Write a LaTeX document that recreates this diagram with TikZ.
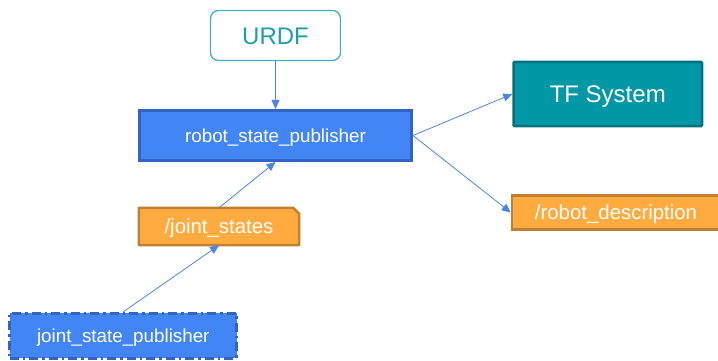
\documentclass[tikz,border=0pt]{standalone}
\usepackage{fontspec}
\setmainfont{Liberation Sans}
\usetikzlibrary{arrows.meta,backgrounds}
\definecolor{gblue}{HTML}{4285F4}
\definecolor{gblueb}{HTML}{3463C2}
\definecolor{arrowc}{HTML}{4A86E8}
\definecolor{tealf}{HTML}{0097A7}
\definecolor{tealb}{HTML}{00737E}
\definecolor{tealt}{HTML}{1E9EA8}
\definecolor{urdfb}{HTML}{45B0B8}
\definecolor{orf}{HTML}{FFAB40}
\definecolor{orb}{HTML}{C07F31}
\begin{document}
\begin{tikzpicture}[x=1pt,y=-1pt,
  box/.style={rectangle,inner sep=0pt,anchor=center,text=white,text depth=0pt},
  conn/.style={draw=arrowc,line width=0.8pt,-{Triangle[length=9pt,width=8pt]}}]
\useasboundingbox (0,0) rectangle (718,361);
\node[box,draw=urdfb,line width=1.3pt,fill=white,rounded corners=8pt,
  minimum width=130pt,minimum height=50pt,text=tealt,font=\fontsize{24}{28}\selectfont,text height=17.2pt]
  (urdf) at (275.5,35.5) {URDF};
\node[box,draw=gblueb,line width=3pt,fill=gblue,minimum width=272pt,minimum height=50pt,
  font=\fontsize{18.8}{22}\selectfont,text height=13.5pt] (rsp) at (275.5,135.5) {robot\_state\_publisher};
\node[box,draw=tealb,line width=2.5pt,fill=tealf,rounded corners=1pt,minimum width=188.5pt,minimum height=64pt,
  font=\fontsize{24}{28}\selectfont,text height=17.2pt] (tf) at (607.75,94) {TF System};
\node[box,draw=orb,line width=2.5pt,fill=orf,minimum width=208pt,minimum height=34pt,
  font=\fontsize{20.4}{24}\selectfont,text height=14.6pt] (rd) at (616,212.5) {/robot\_description};
\node[box,minimum width=160pt,minimum height=37pt,
  font=\fontsize{20.4}{24}\selectfont,text height=14.6pt] (js) at (219,226.5) {/joint\_states};
\begin{scope}[on background layer]
\draw[draw=orb,fill=orf,line width=2.5pt,line join=round]
  (js.south west) -- (js.north west) -- ([xshift=-6pt]js.north east)
  -- ([yshift=-6pt]js.north east) -- (js.south east) -- cycle;
\end{scope}
\node[box,draw=gblueb,line width=3pt,fill=gblue,dash pattern=on 9pt off 4pt on 2.5pt off 4pt,
  minimum width=227pt,minimum height=45pt,font=\fontsize{18.8}{22}\selectfont,text height=13.5pt]
  (jsp) at (123.3,335.8) {joint\_state\_publisher};
\draw[conn] (urdf.south) -- (rsp.north);
\draw[conn] (rsp.east) -- (tf.west);
\draw[conn] (rsp.east) -- (rd.west);
\draw[conn] (js.north) -- (rsp.south);
\draw[conn] (jsp.north) -- (js.south);
\end{tikzpicture}
\end{document}
